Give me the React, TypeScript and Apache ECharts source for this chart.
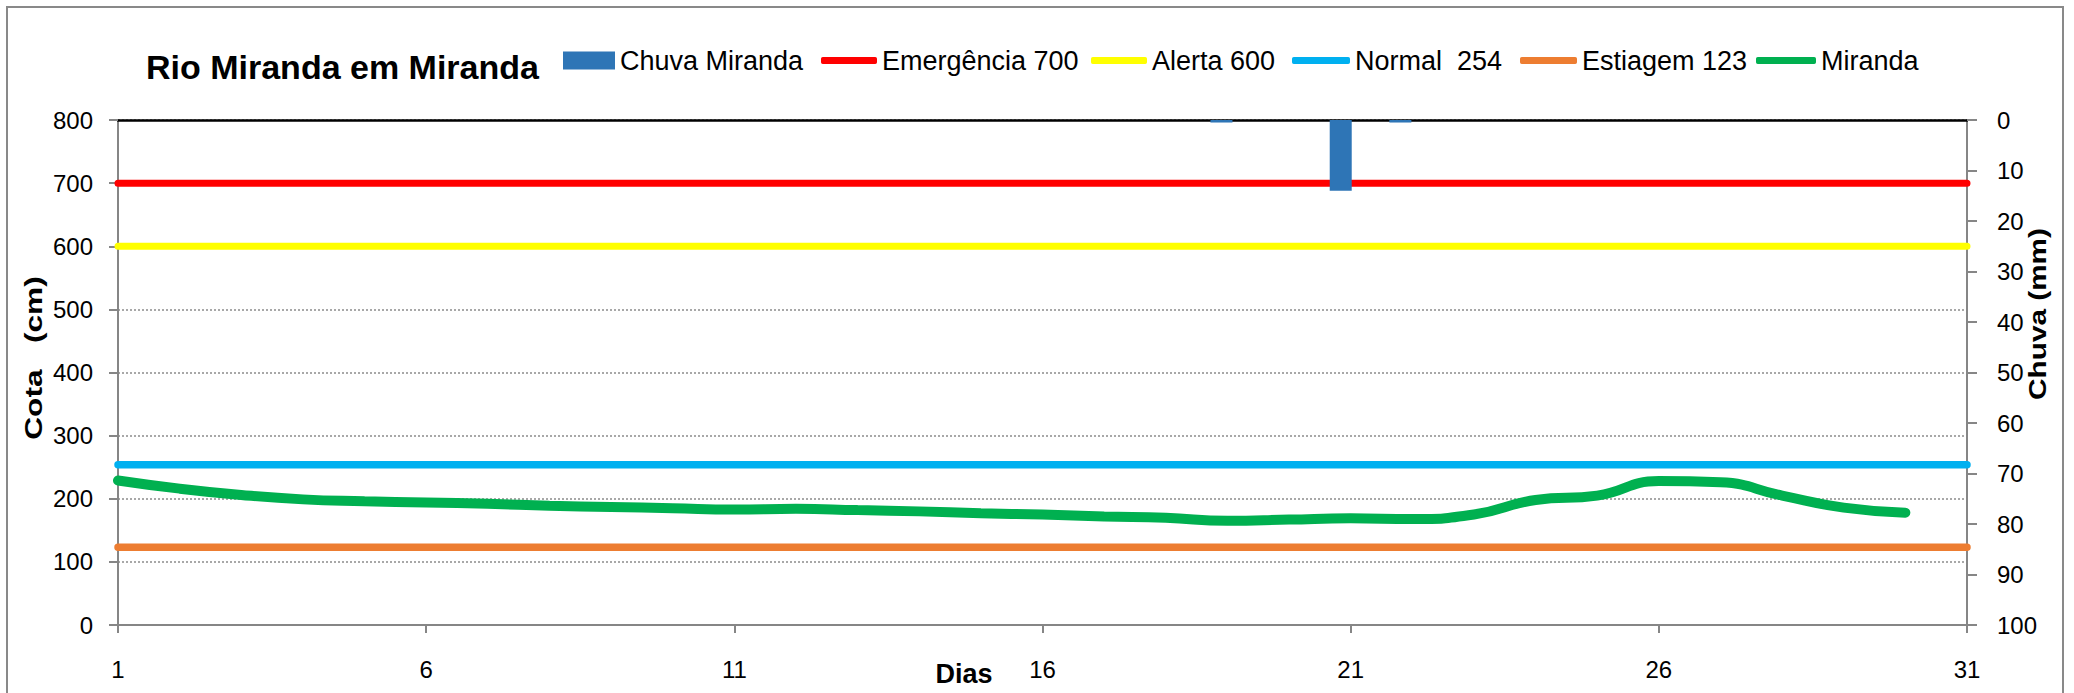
import React, { useEffect, useRef } from "react";
import * as echarts from "echarts";

const FONT = "'Liberation Sans', Arial, sans-serif";

const dias = [
  "1", "2", "3", "4", "5", "6", "7", "8", "9", "10",
  "11", "12", "13", "14", "15", "16", "17", "18", "19", "20",
  "21", "22", "23", "24", "25", "26", "27", "28", "29", "30", "31",
];

// Chuva Miranda (mm)
const chuva = [
  0, 0, 0, 0, 0, 0, 0, 0, 0, 0,
  0, 0, 0, 0, 0, 0, 0, 0, 0.5, 0,
  14, 0.5, 0, 0, 0, 0, 0, 0, 0, 0, 0,
];

// Cota Miranda (cm)
const miranda = [
  229, 216, 206, 199, 196, 194, 192, 189, 187, 185,
  183, 184, 182, 180, 177, 175, 172, 170, 165, 167,
  169, 168, 175, 198, 205, 228, 226, 205, 186, 178, null,
];

const EMERGENCIA = 700;
const ALERTA = 600;
const NORMAL = 254;
const ESTIAGEM = 123;

const cotaTicks = [0, 800, 100];
const chuvaTicks = [0, 100, 10];

export default function App() {
  const ref = useRef<HTMLDivElement>(null);

  useEffect(() => {
    if (!ref.current) return;
    const chart = echarts.init(ref.current, null, { renderer: "svg" });

    const axisGray = "#868686";
    const labelStyle = { fontFamily: FONT, fontSize: 24, color: "#000" };
    const legendText = { fontFamily: FONT, fontSize: 27, color: "#000" };

    const mkLegend = (name: string, left: number, icon: string, w: number, h: number) => ({
      data: [name],
      left,
      top: 47,
      padding: 0,
      itemWidth: w,
      itemHeight: h,
      icon,
      selectedMode: false,
      textStyle: legendText,
    });

    const flat = (v: number) => dias.map(() => v);

    const lineSeries = (name: string, data: any[], color: string, width: number, extra: any = {}) => ({
      name,
      type: "line",
      xAxisIndex: 0,
      yAxisIndex: 0,
      data,
      symbol: "none",
      showSymbol: false,
      lineStyle: { color, width, cap: "round" },
      itemStyle: { color },
      z: 3,
      ...extra,
    });

    chart.setOption({
      animation: false,
      backgroundColor: "#fff",
      title: {
        text: "Rio Miranda em Miranda",
        left: 146,
        top: 50,
        padding: 0,
        textStyle: { fontFamily: FONT, fontSize: 34, fontWeight: "bold", color: "#000" },
      },
      legend: [
        mkLegend("Chuva Miranda", 563, "rect", 52, 18),
        mkLegend("Emergência 700", 821, "roundRect", 56, 7),
        mkLegend("Alerta 600", 1091, "roundRect", 56, 7),
        mkLegend("Normal  254", 1292, "roundRect", 58, 7),
        mkLegend("Estiagem 123", 1520, "roundRect", 57, 7),
        mkLegend("Miranda", 1756, "roundRect", 60, 7),
      ],
      grid: { left: 118, right: 107, top: 120, bottom: 68, containLabel: false },
      xAxis: [
        {
          type: "category",
          data: dias,
          boundaryGap: false,
          position: "bottom",
          axisLine: { show: true, lineStyle: { color: axisGray, width: 2 } },
          axisTick: { show: true, interval: 4, length: 8, inside: false, lineStyle: { color: axisGray, width: 2 } },
          axisLabel: { interval: 4, margin: 32, ...labelStyle },
          splitLine: { show: false },
        },
        {
          type: "category",
          data: dias,
          boundaryGap: true,
          position: "top",
          axisLine: { show: true, onZero: false, lineStyle: { color: "#000", width: 2.5 } },
          axisTick: { show: false },
          axisLabel: { show: false },
          splitLine: { show: false },
        },
      ],
      yAxis: [
        {
          type: "value",
          min: cotaTicks[0],
          max: cotaTicks[1],
          interval: cotaTicks[2],
          position: "left",
          axisLine: { show: true, lineStyle: { color: axisGray, width: 2 } },
          axisTick: { show: true, length: 9, inside: false, lineStyle: { color: axisGray, width: 2 } },
          axisLabel: { margin: 25, ...labelStyle },
          splitLine: { show: true, lineStyle: { color: "#8c8c8c", width: 1.5, type: [2, 2] } },
        },
        {
          type: "value",
          min: chuvaTicks[0],
          max: chuvaTicks[1],
          interval: chuvaTicks[2],
          inverse: true,
          position: "right",
          axisLine: { show: true, lineStyle: { color: axisGray, width: 2 } },
          axisTick: { show: true, length: 10, inside: false, lineStyle: { color: axisGray, width: 2 } },
          axisLabel: { margin: 30, ...labelStyle },
          splitLine: { show: false },
        },
      ],
      graphic: [
        {
          type: "rect",
          silent: true,
          shape: { x: 7, y: 7, width: 2056, height: 700 },
          style: { fill: "none", stroke: "#898989", lineWidth: 2 },
        },
        {
          type: "text",
          x: 34,
          y: 358,
          rotation: Math.PI / 2,
          scaleX: 1.32,
          style: {
            text: "Cota   (cm)",
            fontFamily: FONT,
            fontSize: 24,
            fontWeight: "bold",
            fill: "#000",
            align: "center",
            verticalAlign: "middle",
          },
        },
        {
          type: "text",
          x: 2038,
          y: 314,
          rotation: Math.PI / 2,
          scaleX: 1.24,
          style: {
            text: "Chuva (mm)",
            fontFamily: FONT,
            fontSize: 24,
            fontWeight: "bold",
            fill: "#000",
            align: "center",
            verticalAlign: "middle",
          },
        },
        {
          type: "text",
          x: 964,
          y: 674,
          style: {
            text: "Dias",
            fontFamily: FONT,
            fontSize: 27,
            fontWeight: "bold",
            fill: "#000",
            align: "center",
            verticalAlign: "middle",
          },
        },
      ],
      series: [
        {
          name: "Chuva Miranda",
          type: "bar",
          xAxisIndex: 1,
          yAxisIndex: 1,
          data: chuva,
          barWidth: 22,
          itemStyle: { color: "#2E75B6" },
          z: 5,
        },
        lineSeries("Emergência 700", flat(EMERGENCIA), "#FF0000", 7),
        lineSeries("Alerta 600", flat(ALERTA), "#FFFF00", 7),
        lineSeries("Normal  254", flat(NORMAL), "#00B0F0", 7.5),
        lineSeries("Estiagem 123", flat(ESTIAGEM), "#ED7D31", 7.5),
        lineSeries("Miranda", miranda, "#00B050", 10, { smooth: 0.5, connectNulls: false }),
      ],
    });

    return () => chart.dispose();
  }, []);

  return (
    <div
      ref={ref}
      style={{ position: "absolute", left: 0, top: 0, width: 2074, height: 693 }}
    />
  );
}
